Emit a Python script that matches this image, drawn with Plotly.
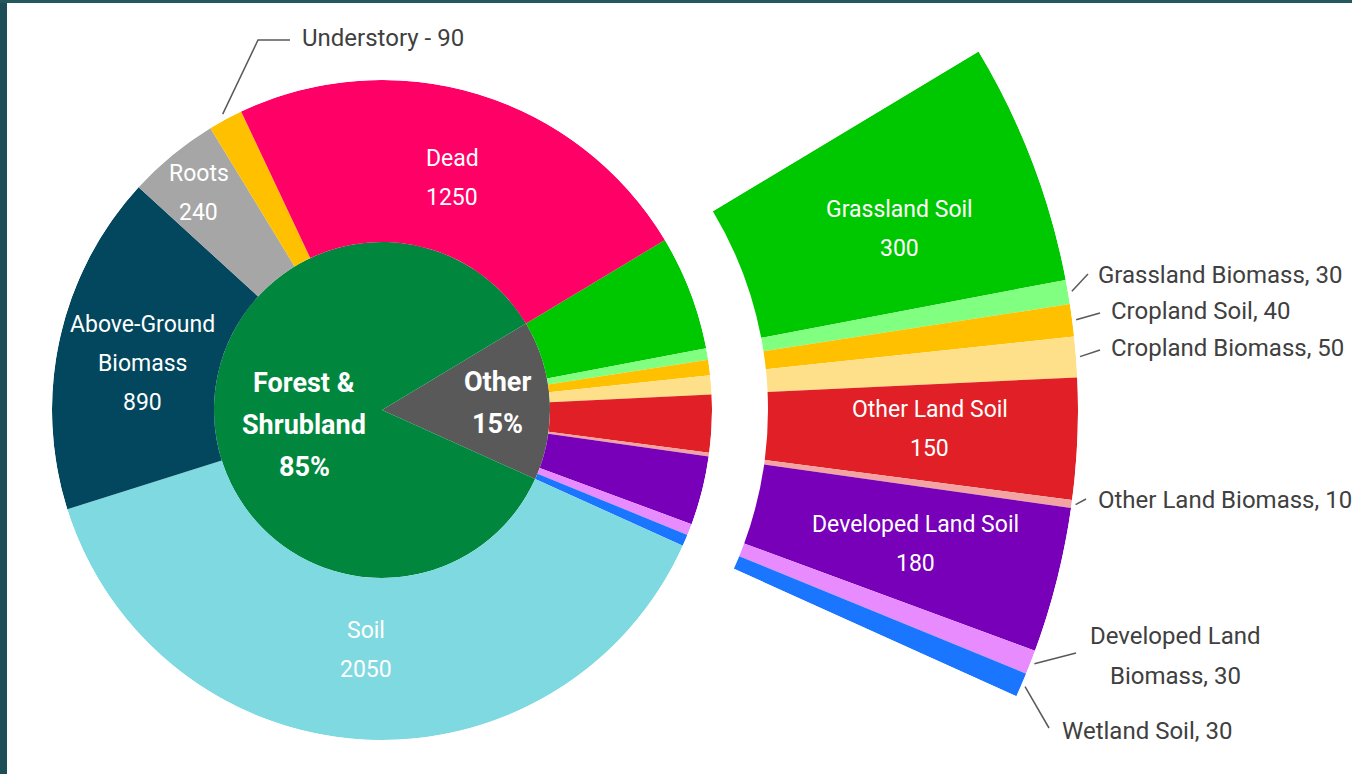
import math
import plotly.graph_objects as go

# ---------------- data ----------------
inner_labels = ["Other", "Forest &<br>Shrubland"]
other_labels = ["Grassland Soil", "Grassland Biomass", "Cropland Soil", "Cropland Biomass",
                "Other Land Soil", "Other Land Biomass", "Developed Land Soil",
                "Developed Land Biomass", "Wetland Soil"]
other_values = [300, 30, 40, 50, 150, 10, 180, 30, 30]
forest_labels = ["Soil", "Above-Ground Biomass", "Roots", "Understory", "Dead"]
forest_values = [2050, 890, 240, 90, 1250]

# ---------------- styles ----------------
inner_colors = ["#595959", "#00873D"]
other_colors = ["#00C800", "#80FF80", "#FFC000", "#FFE08A", "#E01F26", "#F4A3A3",
                "#7800B8", "#E88BFF", "#1A75FF"]
forest_colors = ["#7FD9E0", "#02475E", "#A6A6A6", "#FFC000", "#FF0066"]
FONT = "Roboto, Lato, sans-serif"
TXT_DARK = "#404040"
LINE_C = "#595959"
SZ_IN, SZ_OUT, SZ_BOLD = 23, 24, 27
SPACING = 39

W, H = 1352, 774
CX, CY = 382, 410          # pixel centre of the pie
R_IN, R_OUT = 168, 330     # inner pie / outer ring radii (px)
R_EX0, R_EX1 = 386, 696    # exploded ring radii (px)
ROT = 31.0                 # angle (deg, ccw from east) where the first slice starts

total = sum(other_values) + sum(forest_values)
other_total = sum(other_values)
forest_total = sum(forest_values)
DEG = 360.0 / total


def spans(values, start=0.0):
    mids, widths = [], []
    c = start
    for v in values:
        w = v * DEG
        mids.append(c + w / 2)
        widths.append(w)
        c += w
    return mids, widths


def px_point(theta_cw, r):
    a = math.radians(ROT - theta_cw)
    return CX + r * math.cos(a), CY - r * math.sin(a)


def pxx(x):
    return x / W


def pxy(y):
    return 1 - y / H


annotations = []
shapes = []


def add_lines(lines, cx, cy, size, color, bold=False, spacing=SPACING, xanchor="center"):
    n = len(lines)
    for i, t in enumerate(lines):
        y = cy + (i - (n - 1) / 2) * spacing
        annotations.append(dict(
            x=pxx(cx), y=pxy(y), xref="paper", yref="paper",
            text=f"<b>{t}</b>" if bold else t, showarrow=False,
            xanchor=xanchor, yanchor="middle",
            font=dict(family=FONT, size=size, color=color)))


fig = go.Figure()

# ---- inner pie ----
inner_values = [other_total, forest_total]
in_mid, in_w = spans(inner_values)
fig.add_trace(go.Barpolar(theta=in_mid, width=in_w, r=[R_IN] * 2, base=[0, 0],
                          marker=dict(color=inner_colors, line=dict(width=0)),
                          subplot="polar", hoverinfo="skip"))

# ---- outer ring ----
ring_values = other_values + forest_values
ring_mid, ring_w = spans(ring_values)
fig.add_trace(go.Barpolar(theta=ring_mid, width=ring_w, r=[R_OUT - R_IN] * len(ring_values),
                          base=[R_IN] * len(ring_values),
                          marker=dict(color=other_colors + forest_colors, line=dict(width=0)),
                          subplot="polar", hoverinfo="skip"))

# ---- exploded ring ----
ex_mid, ex_w = spans(other_values)
fig.add_trace(go.Barpolar(theta=ex_mid, width=ex_w, r=[R_EX1 - R_EX0] * len(other_values),
                          base=[R_EX0] * len(other_values),
                          marker=dict(color=other_colors, line=dict(width=0)),
                          subplot="polar2", hoverinfo="skip"))

# ---- inner pie labels ----
pct = [round(v / total * 100) for v in inner_values]
inner_place = {"Other": (116, 0, 0), "Forest &<br>Shrubland": (78, 0, 10)}  # radius, dx, dy
for lab, p, m in zip(inner_labels, pct, in_mid):
    r, dx, dy = inner_place[lab]
    x, y = px_point(m, r)
    add_lines(lab.split("<br>") + [f"{p}%"], x + dx, y + dy, SZ_BOLD, "white", bold=True, spacing=42)

# ---- forest ring labels ----
forest_mid = ring_mid[len(other_values):]
forest_place = {"Soil": (240, -2, 0), "Above-Ground Biomass": (245, 0, 6),
                "Roots": (284, -3, 2), "Dead": (242, 0, 0)}
forest_display = {"Above-Ground Biomass": ["Above-Ground", "Biomass"]}
for lab, val, m in zip(forest_labels, forest_values, forest_mid):
    if lab in forest_place:
        r, dx, dy = forest_place[lab]
        x, y = px_point(m, r)
        add_lines(forest_display.get(lab, [lab]) + [str(val)], x + dx, y + dy, SZ_IN, "white")

# ---- exploded ring labels inside ----
ex_place = {"Grassland Soil": (548, 6, 14), "Other Land Soil": (548, 0, -4),
            "Developed Land Soil": (548, 2, 0)}
for lab, val, m in zip(other_labels, other_values, ex_mid):
    if lab in ex_place:
        r, dx, dy = ex_place[lab]
        x, y = px_point(m, r)
        add_lines([lab, str(val)], x + dx, y + dy, SZ_IN, "white")

# ---- outside labels with leader lines ----
outside = {
    # label: (leader end points in px, text x, text y, anchor)
    "Grassland Biomass": ([(1088, 274)], 1096, 275, "left"),
    "Cropland Soil": ([(1100, 313)], 1109, 311, "left"),
    "Cropland Biomass": ([(1100, 350)], 1109, 348, "left"),
    "Other Land Biomass": ([(1086, 499)], 1096, 500, "left"),
    "Developed Land Biomass": ([(1076, 653)], 1175, 656, "center"),
    "Wetland Soil": ([(1049, 728)], 1060, 731, "left"),
}
for lab, val, m in zip(other_labels, other_values, ex_mid):
    if lab in outside:
        pts, tx, ty, anc = outside[lab]
        sx, sy = px_point(m, R_EX1 + 4)
        path = f"M {pxx(sx)},{pxy(sy)}" + "".join(f" L {pxx(x)},{pxy(y)}" for x, y in pts)
        shapes.append(dict(type="path", path=path, xref="paper", yref="paper",
                           line=dict(color=LINE_C, width=1.5)))
        if lab == "Developed Land Biomass":
            lines = ["Developed Land", f"Biomass, {val}"]
        else:
            lines = [f"{lab}, {val}"]
        add_lines(lines, tx, ty, SZ_OUT, TXT_DARK, spacing=40, xanchor=anc)

# Understory (forest ring)
i_u = forest_labels.index("Understory")
sx, sy = px_point(forest_mid[i_u], R_OUT + 6)
path = f"M {pxx(sx)},{pxy(sy)} L {pxx(258)},{pxy(40)} L {pxx(290)},{pxy(40)}"
shapes.append(dict(type="path", path=path, xref="paper", yref="paper",
                   line=dict(color=LINE_C, width=1.5)))
add_lines([f"Understory - {forest_values[i_u]}"], 300, 38, SZ_OUT, TXT_DARK, xanchor="left")

# frame strips (dark border at top and left)
shapes.append(dict(type="rect", xref="paper", yref="paper", x0=0, x1=7 / W, y0=0, y1=1,
                   fillcolor="#1D4D57", line=dict(width=0), layer="below"))
shapes.append(dict(type="rect", xref="paper", yref="paper", x0=0, x1=1, y0=1 - 3 / H, y1=1,
                   fillcolor="#22585E", line=dict(width=0), layer="below"))

a_bot = ROT - other_total * DEG
top_px = CY - R_EX1 * math.sin(math.radians(ROT))
bot_px = CY - R_EX1 * math.sin(math.radians(a_bot))

hidden_ang = dict(rotation=ROT, direction="clockwise", visible=False, showgrid=False,
                  showline=False, showticklabels=False, ticks="")

fig.update_layout(
    width=W, height=H,
    margin=dict(l=0, r=0, t=0, b=0),
    paper_bgcolor="white",
    showlegend=False,
    polar=dict(
        domain=dict(x=[pxx(CX - R_OUT), pxx(CX + R_OUT)], y=[pxy(CY + R_OUT), pxy(CY - R_OUT)]),
        bgcolor="rgba(0,0,0,0)",
        radialaxis=dict(range=[0, R_OUT], visible=False, showgrid=False),
        angularaxis=hidden_ang,
        bargap=0,
    ),
    polar2=dict(
        domain=dict(x=[pxx(CX), pxx(CX + R_EX1)], y=[pxy(bot_px), pxy(top_px)]),
        sector=[a_bot, ROT],
        bgcolor="rgba(0,0,0,0)",
        radialaxis=dict(range=[0, R_EX1], visible=False, showgrid=False),
        angularaxis=hidden_ang,
        bargap=0,
    ),
    shapes=shapes,
    annotations=annotations,
)

fig.write_html("out.html", config={"displayModeBar": False},
               post_script="document.body.style.margin='0';document.body.style.overflow='hidden';")
